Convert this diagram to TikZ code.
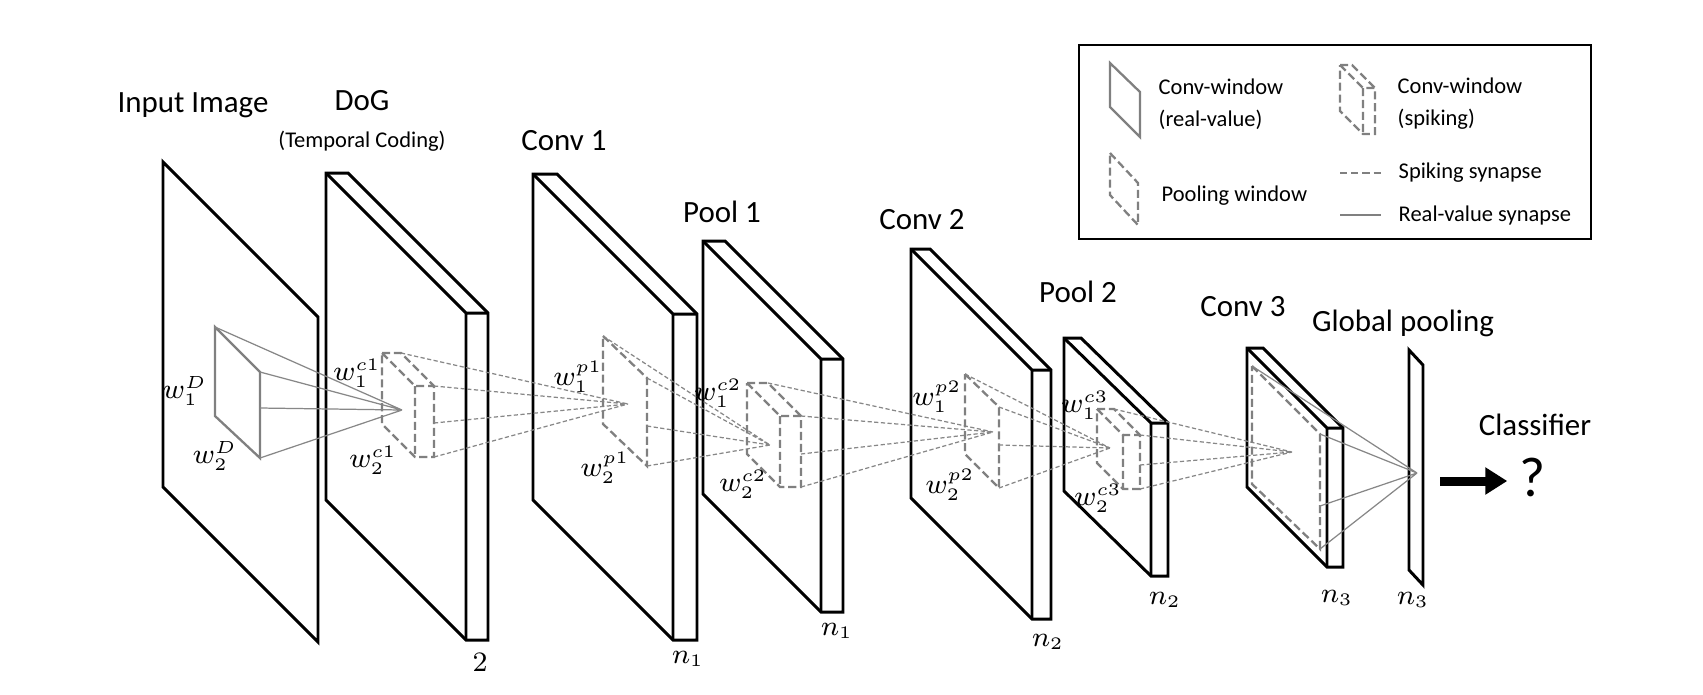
\documentclass[tikz,border=0pt]{standalone}
\usepackage{fontspec}
\setmainfont{Carlito}
\usepackage{xcolor}
\usepackage{tikz}
\usetikzlibrary{positioning, arrows.meta}

\definecolor{wingray}{RGB}{128,128,128}
\definecolor{syngray}{RGB}{135,135,135}

\begin{document}
\begin{tikzpicture}[x=0.1mm, y=-0.1mm, >=Latex,
  layer/.style={draw, line width=0.85pt, fill=white, line join=miter},
  ridge/.style={draw, line width=0.85pt, line join=miter},
  realwin/.style={draw=wingray, line width=0.65pt, line join=miter},
  spikewin/.style={draw=wingray, line width=0.65pt, dash pattern=on 2.3pt off 1.1pt},
  real/.style={draw=syngray, line width=0.35pt},
  spike/.style={draw=syngray, line width=0.35pt, dash pattern=on 1.2pt off 0.7pt},
  legendbox/.style={draw, line width=0.7pt},
  title/.style={font=\fontsize{8.8}{10}\selectfont, inner sep=0pt},
  note/.style={font=\fontsize{6.4}{9.1}\selectfont, inner sep=0pt, align=left},
  wlab/.style={font=\fontsize{7.8}{9}\selectfont, inner sep=0pt},
  bigarrow/.style={-{Triangle[length=2.2mm, width=2.6mm]}, line width=0.9mm}]

  \useasboundingbox (0,0) rectangle (1703,694);

  \coordinate (input) at (163,162);
  \coordinate (dog) at (326,173);
  \coordinate (conv1) at (533,174);
  \coordinate (pool1) at (703,241);
  \coordinate (conv2) at (911,249);
  \coordinate (pool2) at (1064,338);
  \coordinate (conv3) at (1247,348);
  \coordinate (gpool) at (1409,350);

  \draw[layer] (input) -- ++(155,155) -- ++(0,325) -- ++(-155,-155) -- cycle;

  \draw[layer] (dog) -- ++(22,0) -- ++(140,140) -- ++(0,327) -- ++(-22,0) -- ++(-140,-140) -- cycle;
  \draw[ridge] (dog) -- ++(140,140) -- ++(22,0) ++(-22,0) -- ++(0,327);

  \draw[layer] (conv1) -- ++(24,0) -- ++(140,140) -- ++(0,326) -- ++(-24,0) -- ++(-140,-140) -- cycle;
  \draw[ridge] (conv1) -- ++(140,140) -- ++(24,0) ++(-24,0) -- ++(0,326);

  \draw[layer] (pool1) -- ++(22,0) -- ++(118,118) -- ++(0,253) -- ++(-22,0) -- ++(-118,-118) -- cycle;
  \draw[ridge] (pool1) -- ++(118,118) -- ++(22,0) ++(-22,0) -- ++(0,253);

  \draw[layer] (conv2) -- ++(19,0) -- ++(121,121) -- ++(0,249) -- ++(-19,0) -- ++(-121,-121) -- cycle;
  \draw[ridge] (conv2) -- ++(121,121) -- ++(19,0) ++(-19,0) -- ++(0,249);

  \draw[layer] (pool2) -- ++(17,0) -- ++(87,85) -- ++(0,153) -- ++(-17,0) -- ++(-87,-85) -- cycle;
  \draw[ridge] (pool2) -- ++(87,85) -- ++(17,0) ++(-17,0) -- ++(0,153);

  \draw[layer] (conv3) -- ++(16,0) -- ++(80,80) -- ++(0,139) -- ++(-16,0) -- ++(-80,-80) -- cycle;
  \draw[ridge] (conv3) -- ++(80,80) -- ++(16,0) ++(-16,0) -- ++(0,139);

  \draw[layer] (gpool) -- ++(14,15) -- ++(0,220) -- ++(-14,-15) -- cycle;

  \draw[realwin] (215,327) coordinate (inw-a) -- (260,372) coordinate (inw-b) -- (260,458) coordinate (inw-c) -- (215,416) -- cycle;
  \coordinate (inw-m) at (260,408);
  \coordinate (dog-hub) at (402,410);
  \draw[real] (inw-a) -- (dog-hub) (inw-b) -- (dog-hub) (inw-m) -- (dog-hub) (inw-c) -- (dog-hub);

  \draw[spikewin] (382,353) -- ++(19,0) coordinate (dogw-a) -- ++(33,33) coordinate (dogw-b) -- ++(0,71) coordinate (dogw-c) -- ++(-19,0) -- ++(-33,-33) -- cycle
    (382,353) -- ++(33,33) -- ++(19,0) ++(-19,0) -- ++(0,71);
  \coordinate (dogw-m) at (434,423);
  \coordinate (c1-hub) at (628,404);
  \draw[spike] (dogw-a) -- (c1-hub) (dogw-b) -- (c1-hub) (dogw-m) -- (c1-hub) (dogw-c) -- (c1-hub);

  \draw[spikewin] (603,336) coordinate (c1w-a) -- (647,378) coordinate (c1w-b) -- (647,466) coordinate (c1w-c) -- (603,424) -- cycle;
  \coordinate (c1w-m) at (647,426);
  \coordinate (p1-hub) at (770,445);
  \draw[spike] (c1w-a) -- (p1-hub) (c1w-b) -- (p1-hub) (c1w-m) -- (p1-hub) (c1w-c) -- (p1-hub);

  \draw[spikewin] (747,383) -- ++(21,0) coordinate (p1w-a) -- ++(33,33) coordinate (p1w-b) -- ++(0,71) coordinate (p1w-c) -- ++(-21,0) -- ++(-33,-33) -- cycle
    (747,383) -- ++(33,33) -- ++(21,0) ++(-21,0) -- ++(0,71);
  \coordinate (p1w-m) at (801,454);
  \coordinate (c2-hub) at (993,432);
  \draw[spike] (p1w-a) -- (c2-hub) (p1w-b) -- (c2-hub) (p1w-m) -- (c2-hub) (p1w-c) -- (c2-hub);

  \draw[spikewin] (965,374) coordinate (c2w-a) -- (999,407) coordinate (c2w-b) -- (999,488) coordinate (c2w-c) -- (965,454) -- cycle;
  \coordinate (c2w-m) at (999,445);
  \coordinate (p2-hub) at (1110,448);
  \draw[spike] (c2w-a) -- (p2-hub) (c2w-b) -- (p2-hub) (c2w-m) -- (p2-hub) (c2w-c) -- (p2-hub);

  \draw[spikewin] (1097,409) -- ++(17,0) coordinate (p2w-a) -- ++(26,26) coordinate (p2w-b) -- ++(0,54) coordinate (p2w-c) -- ++(-17,0) -- ++(-26,-26) -- cycle
    (1097,409) -- ++(26,26) -- ++(17,0) ++(-17,0) -- ++(0,54);
  \coordinate (p2w-m) at (1140,465);
  \coordinate (c3-hub) at (1292,452);
  \draw[spike] (p2w-a) -- (c3-hub) (p2w-b) -- (c3-hub) (p2w-m) -- (c3-hub) (p2w-c) -- (c3-hub);

  \draw[spikewin] (1252,366) coordinate (c3w-a) -- (1320,434) coordinate (c3w-b) -- (1320,549) coordinate (c3w-c) -- (1252,484) -- cycle;
  \coordinate (c3w-m) at (1320,506);
  \coordinate (gp-hub) at (1417,473);
  \draw[real] (c3w-a) -- (gp-hub) (c3w-b) -- (gp-hub) (c3w-m) -- (gp-hub) (c3w-c) -- (gp-hub);

  \node[title] (t-input) at (193,105) {Input Image};
  \node[title] (t-dog) at (362,101) {DoG};
  \node[note] (t-temporal) at (362,141) {(Temporal Coding)};
  \node[title] (t-conv1) at (564,141) {Conv 1};
  \node[title] (t-pool1) at (722,212) {Pool 1};
  \node[title] (t-conv2) at (922,220) {Conv 2};
  \node[title] (t-pool2) at (1078,292) {Pool 2};
  \node[title] (t-conv3) at (1243,307) {Conv 3};
  \node[title] (t-gpool) at (1403,323) {Global pooling};
  \node[title] (t-clf) at (1535,425) {Classifier};
  \node[font=\fontsize{16}{18}\selectfont, inner sep=0pt] (qmark) at (1533,477) {?};

  \coordinate (arr-start) at (1440,481);
  \draw[bigarrow, shorten >=1.2mm] (arr-start) -- (arr-start -| qmark.west);

  \node[wlab] (w1-d) at (185,391) {$w_1^D$};
  \node[wlab] (w2-d) at (215,456) {$w_2^D$};
  \node[wlab] (w1-c1) at (357,373) {$w_1^{c1}$};
  \node[wlab] (w2-c1) at (373,460) {$w_2^{c1}$};
  \node[wlab] (w1-p1) at (578,377) {$w_1^{p1}$};
  \node[wlab] (w2-p1) at (605,468) {$w_2^{p1}$};
  \node[wlab] (w1-c2) at (718,393) {$w_1^{c2}$};
  \node[wlab] (w2-c2) at (743,484) {$w_2^{c2}$};
  \node[wlab] (w1-p2) at (937,397) {$w_1^{p2}$};
  \node[wlab] (w2-p2) at (950,485) {$w_2^{p2}$};
  \node[wlab] (w1-c3) at (1085,405) {$w_1^{c3}$};
  \node[wlab] (w2-c3) at (1098,498) {$w_2^{c3}$};

  \node[wlab] (n-dog) at (480,662) {$2$};
  \node[wlab] (n-conv1) at (688,659) {$n_1$};
  \node[wlab] (n-pool1) at (837,631) {$n_1$};
  \node[wlab] (n-conv2) at (1048,642) {$n_2$};
  \node[wlab] (n-pool2) at (1165,600) {$n_2$};
  \node[wlab] (n-conv3) at (1337,598) {$n_3$};
  \node[wlab] (n-gpool) at (1413,600) {$n_3$};

  \draw[legendbox] (1079,45) rectangle (1591,239);

  \draw[realwin] (1110,63) -- (1140,92) -- (1140,137) -- (1110,107) -- cycle;
  \coordinate (leg-rv) at (1140,104);
  \node[note, right=1.8mm of leg-rv] (l-rv) {Conv-window\\(real-value)};

  \draw[spikewin] (1340,65) -- ++(12,0) -- ++(23,23) -- ++(0,46) -- ++(-12,0) -- ++(-23,-23) -- cycle
    (1340,65) -- ++(23,23) -- ++(12,0) ++(-12,0) -- ++(0,46);
  \coordinate (leg-sp) at (1375,104);
  \node[note, right=2.2mm of leg-sp] (l-sp) {Conv-window\\(spiking)};

  \draw[spikewin] (1110,153) -- (1138,183) -- (1138,225) -- (1110,195) -- cycle;
  \coordinate (leg-pool) at (1138,196);
  \node[note, right=2.3mm of leg-pool] (l-pool) {Pooling window};

  \coordinate (leg-s1) at (1340,173);
  \coordinate (leg-s2) at (1381,173);
  \draw[draw=wingray, line width=0.6pt, dash pattern=on 2pt off 1.2pt] (leg-s1) -- (leg-s2);
  \node[note, right=1.7mm of leg-s2] (l-spike) {Spiking synapse};

  \coordinate (leg-r1) at (1340,215);
  \coordinate (leg-r2) at (1381,215);
  \draw[draw=wingray, line width=0.5pt] (leg-r1) -- (leg-r2);
  \node[note, right=1.7mm of leg-r2] (l-real) {Real-value synapse};

\end{tikzpicture}
\end{document}
